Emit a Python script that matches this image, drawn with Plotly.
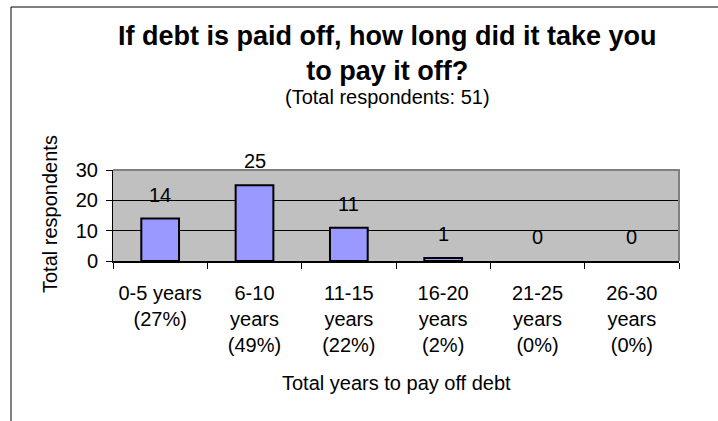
import plotly.graph_objects as go

# Survey data: years needed to pay off debt
categories = ["0-5 years", "6-10 years", "11-15 years", "16-20 years", "21-25 years", "26-30 years"]
respondents = [14, 25, 11, 1, 0, 0]
tick_labels = [
    "0-5 years<br>(27%)",
    "6-10<br>years<br>(49%)",
    "11-15<br>years<br>(22%)",
    "16-20<br>years<br>(2%)",
    "21-25<br>years<br>(0%)",
    "26-30<br>years<br>(0%)",
]
y_ticks = [0, 10, 20, 30]

W, H = 718, 421
L, R, T, B = 113, 39, 170, 160
PW, PH = W - L - R, H - T - B

FONT = "Arial, Liberation Sans, sans-serif"


def px_x(px):
    return (px - L) / PW


def px_y(py):
    return (H - B - py) / PH


fig = go.Figure()
fig.add_trace(go.Bar(
    x=categories,
    y=respondents,
    marker=dict(
        color="#9999FF",
        # empty categories get no outline so nothing is drawn for them
        line=dict(color="#000000", width=[2 if v > 0 else 0 for v in respondents]),
    ),
    width=0.4,
    hoverinfo="x+y",
))

annotations = []
# value labels above each bar
for c, v in zip(categories, respondents):
    annotations.append(dict(
        x=c, y=v, xref="x", yref="y", text=str(v), showarrow=False,
        yshift=24, font=dict(family=FONT, size=20, color="#000000"),
    ))

# chart title and subtitle
annotations.append(dict(
    x=px_x(387), y=px_y(53), xref="paper", yref="paper",
    text="<b>If debt is paid off, how long did it take you<br>to pay it off?</b>",
    showarrow=False, xanchor="center", yanchor="middle",
    font=dict(family=FONT, size=27, color="#000000"),
))
annotations.append(dict(
    x=px_x(387), y=px_y(97), xref="paper", yref="paper",
    text="(Total respondents: 51)", showarrow=False,
    xanchor="center", yanchor="middle",
    font=dict(family=FONT, size=20, color="#000000"),
))
# axis titles
annotations.append(dict(
    x=px_x(50), y=px_y(214), xref="paper", yref="paper",
    text="Total respondents", showarrow=False, textangle=-90,
    xanchor="center", yanchor="middle",
    font=dict(family=FONT, size=20, color="#000000"),
))
annotations.append(dict(
    x=px_x(396), y=px_y(383), xref="paper", yref="paper",
    text="Total years to pay off debt", showarrow=False,
    xanchor="center", yanchor="middle",
    font=dict(family=FONT, size=20, color="#000000"),
))

shapes = [
    # outer chart frame
    dict(type="rect", xref="paper", yref="paper",
         x0=px_x(11), x1=px_x(740), y0=px_y(440), y1=px_y(7),
         line=dict(color="#000000", width=1), layer="above"),
    # grey plot-area frame on top and right
    dict(type="path", xref="paper", yref="paper", path="M0,1 L1,1 L1,0",
         line=dict(color="#808080", width=2), layer="above"),
]

fig.update_layout(
    width=W, height=H,
    margin=dict(l=L, r=R, t=T, b=B, pad=0),
    paper_bgcolor="#FFFFFF",
    plot_bgcolor="#C0C0C0",
    showlegend=False,
    bargap=0.6,
    annotations=annotations,
    shapes=shapes,
    font=dict(family=FONT, size=20, color="#000000"),
)
fig.update_xaxes(
    type="category",
    tickvals=categories,
    ticktext=tick_labels,
    tickson="boundaries",
    ticks="outside", ticklen=6, tickcolor="#000000", tickwidth=1,
    showline=True, linecolor="#000000", linewidth=2,
    showgrid=False, zeroline=False,
    tickfont=dict(family=FONT, size=20, color="#000000"),
    ticklabelstandoff=13,
)
fig.update_yaxes(
    range=[0, 30],
    tickvals=y_ticks,
    ticks="outside", ticklen=6, tickcolor="#000000", tickwidth=1,
    showline=True, linecolor="#000000", linewidth=1,
    showgrid=True, gridcolor="#000000", gridwidth=1,
    zeroline=False,
    tickfont=dict(family=FONT, size=20, color="#000000"),
    ticklabelstandoff=4,
)

fig.write_html("out.html")
